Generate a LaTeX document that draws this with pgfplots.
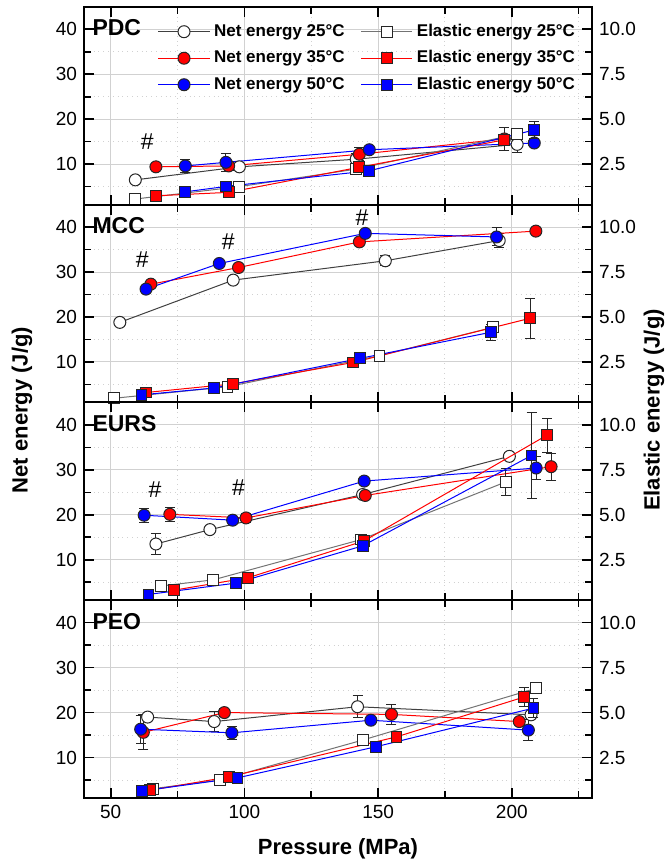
\documentclass[border=0pt]{standalone}
\usepackage{pgfplots}
\pgfplotsset{compat=1.18}
\usepackage{fontspec}
\setmainfont{Liberation Sans}
\pgfplotsset{
 base/.style={width=254pt, height=98.9pt, scale only axis, xmin=40, xmax=230,
   axis line style={line width=1pt}, tick align=inside, major tick length=5pt, minor tick length=3.5pt,
   every tick/.style={black, line width=0.8pt},
   ticklabel style={font=\fontsize{9.5}{11}\selectfont},
   /pgf/number format/assume math mode=true, clip=false},
 netax/.style={base, ymin=1, ymax=45, ytick={10,20,30,40}, minor ytick={5,15,25,35},
   xtick={50,100,150,200}, minor xtick={75,125,175,225}, grid=both,
   major grid style={black!18, line width=0.5pt}, minor grid style={black!18, dotted, line width=0.5pt},
   ytick pos=left, xtick pos=both},
 elax/.style={base, ymin=0.25, ymax=11.25, axis y line*=right, axis x line=none,
   ytick={2.5,5,7.5,10}, minor ytick={1.25,3.75,6.25,8.75},
   yticklabel style={/pgf/number format/.cd, fixed, fixed zerofill, precision=1}},
 n25/.style={black!75, line width=0.5pt, mark=*, mark size=3pt, mark options={solid, fill=white, draw=black!85, line width=0.5pt}},
 n35/.style={red, line width=0.5pt, mark=*, mark size=3pt, mark options={solid, fill=red, draw=black!85, line width=0.5pt}},
 n50/.style={blue, line width=0.5pt, mark=*, mark size=3pt, mark options={solid, fill=blue, draw=black!85, line width=0.5pt}},
 e25/.style={black!55, line width=0.5pt, mark=square*, mark size=2.7pt, mark options={solid, fill=white, draw=black!85, line width=0.5pt}},
 e35/.style={red, line width=0.5pt, mark=square*, mark size=2.7pt, mark options={solid, fill=red, draw=black!85, line width=0.5pt}},
 e50/.style={blue, line width=0.5pt, mark=square*, mark size=2.7pt, mark options={solid, fill=blue, draw=black!85, line width=0.5pt}},
 ebar/.style={error bars/.cd, y dir=both, y explicit, error bar style={black!85, line width=0.5pt},
   error mark options={rotate=90, black!85, mark size=2.5pt, line width=0.5pt}},
}
\newcommand{\ptitle}[1]{\node[anchor=north west, inner sep=0pt, font=\fontsize{11.5}{13}\bfseries] at (rel axis cs:0.016,0.937) {#1};}
\newcommand{\hash}[2]{\node[font=\fontsize{11.5}{13}\selectfont] at (axis cs:#1,#2) {\#};}
\begin{document}
\begin{tikzpicture}
\path[use as bounding box] (0,0) rectangle (336pt,431.5pt);
%% ---------------- PDC
\begin{axis}[netax, at={(42pt,329.2pt)}, anchor=south west, xticklabels={},
  legend style={draw=none, fill=none, font=\fontsize{8.5}{10}\bfseries, at={(0.975,0.935)}, anchor=north east,
    column sep=0pt, row sep=1.6pt, inner sep=0pt, /tikz/every even column/.append style={column sep=6pt}},
  legend columns=2, legend cell align=left,
  legend image code/.code={\draw[mark repeat=2,mark phase=2,#1] plot coordinates {(0cm,0cm) (0.45cm,0cm) (0.9cm,0cm)};}]
\addlegendimage{n25}\addlegendentry{Net energy 25°C}
\addlegendimage{e25}\addlegendentry{Elastic energy 25°C}
\addlegendimage{n35}\addlegendentry{Net energy 35°C}
\addlegendimage{e35}\addlegendentry{Elastic energy 35°C}
\addlegendimage{n50}\addlegendentry{Net energy 50°C}
\addlegendimage{e50}\addlegendentry{Elastic energy 50°C}
\addplot[n25, forget plot, ebar] table[x=x,y=y,y error=e] {
x y e
59.2 6.5 0.8
98.1 9.4 0.8
141.8 11.1 1.2
202 14.4 1.8
};
\addplot[n35, forget plot, ebar] table[x=x,y=y,y error=e] {
x y e
66.9 9.4 0.7
94.1 9.6 1.0
143 12.2 1.5
197.2 15.6 2.6
};
\addplot[n50, forget plot, ebar] table[x=x,y=y,y error=e] {
x y e
77.9 9.6 1.5
93.1 10.4 2.0
146.7 13.2 0.8
208.4 14.7 0.8
};
\ptitle{PDC}
\hash{63.7}{14.9}
\end{axis}
\begin{axis}[elax, at={(42pt,329.2pt)}, anchor=south west]
\addplot[e25, ebar] table[x=x,y=y,y error=e] {
x y e
59.2 0.56 0.15
98.1 1.25 0.15
141.7 2.22 0.2
202 4.17 0.3
};
\addplot[e35, ebar] table[x=x,y=y,y error=e] {
x y e
66.9 0.74 0.15
94.1 0.93 0.1
143 2.33 0.2
197.2 3.85 0.3
};
\addplot[e50, ebar] table[x=x,y=y,y error=e] {
x y e
77.9 0.96 0.15
93.1 1.26 0.1
146.7 2.13 0.15
208.4 4.4 0.45
};
\end{axis}
%% ---------------- MCC
\begin{axis}[netax, at={(42pt,230.3pt)}, anchor=south west, xticklabels={}]
\addplot[n25, ebar] table[x=x,y=y,y error=e] {
x y e
53.4 18.8 0.5
95.8 28.2 0.8
152.7 32.5 1.1
195.3 37.0 1.5
};
\addplot[n35, ebar] table[x=x,y=y,y error=e] {
x y e
65 27.3 0.8
97.8 31.0 0.5
143 36.7 0.8
209 39.1 0.8
};
\addplot[n50, ebar] table[x=x,y=y,y error=e] {
x y e
63.2 26.2 0.8
90.6 31.9 0.5
145.2 38.6 0.5
194.3 37.8 2.0
};
\ptitle{MCC}
\hash{61.8}{32.7}
\hash{94}{36.7}
\hash{144}{42}
\end{axis}
\begin{axis}[elax, at={(42pt,230.3pt)}, anchor=south west]
\addplot[e25, ebar] table[x=x,y=y,y error=e] {
x y e
51.3 0.48 0.15
93.7 1.12 0.1
150.5 2.85 0.25
193.1 4.43 0.25
};
\addplot[e35, ebar] table[x=x,y=y,y error=e] {
x y e
63.2 0.8 0.1
95.8 1.28 0.15
140.7 2.47 0.1
206.9 4.93 1.1
};
\addplot[e50, ebar] table[x=x,y=y,y error=e] {
x y e
61.5 0.67 0.15
88.7 1.05 0.1
143.3 2.7 0.1
192.2 4.15 0.45
};
\end{axis}
%% ---------------- EURS
\begin{axis}[netax, at={(42pt,131.4pt)}, anchor=south west, xticklabels={}]
\addplot[n25, ebar] table[x=x,y=y,y error=e] {
x y e
66.9 13.5 2.3
87.1 16.7 0.8
144.2 24.5 0.8
199.1 33.0 0.8
};
\addplot[n35, ebar] table[x=x,y=y,y error=e] {
x y e
72.1 20.1 1.5
100.6 19.3 1.0
145.2 24.3 0.8
214.7 30.7 3.0
};
\addplot[n50, ebar] table[x=x,y=y,y error=e] {
x y e
62.5 19.9 1.6
95.6 18.8 0.5
144.8 27.5 0.5
209.1 30.4 2.5
};
\ptitle{EURS}
\hash{66.6}{25.6}
\hash{97.8}{26.1}
\end{axis}
\begin{axis}[elax, at={(42pt,131.4pt)}, anchor=south west]
\addplot[e25, ebar] table[x=x,y=y,y error=e] {
x y e
68.8 1.04 0.15
88.3 1.38 0.15
143.6 3.62 0.2
197.8 6.83 0.75
};
\addplot[e35, ebar] table[x=x,y=y,y error=e] {
x y e
73.8 0.81 0.2
101.4 1.5 0.2
144.8 3.55 0.25
213.2 9.43 0.95
};
\addplot[e50, ebar] table[x=x,y=y,y error=e] {
x y e
64.1 0.57 0.15
96.8 1.2 0.1
144.2 3.27 0.2
207.4 8.3 2.4
};
\end{axis}
%% ---------------- PEO
\begin{axis}[netax, at={(42pt,32.5pt)}, anchor=south west]
\addplot[n25, ebar] table[x=x,y=y,y error=e] {
x y e
63.8 19.0 0.8
88.7 18.0 2.2
142.3 21.3 2.5
207.2 19.5 0.8
};
\addplot[n35, ebar] table[x=x,y=y,y error=e] {
x y e
62.2 15.6 3.9
92.5 20.0 0.8
155 19.6 2.3
202.8 18.0 0.5
};
\addplot[n50, ebar] table[x=x,y=y,y error=e] {
x y e
61.2 16.3 3.1
95.3 15.5 1.5
147.3 18.3 0.5
206.2 16.1 2.3
};
\ptitle{PEO}
\end{axis}
\begin{axis}[elax, at={(42pt,32.5pt)}, anchor=south west]
\addplot[e25, ebar] table[x=x,y=y,y error=e] {
x y e
65.9 0.77 0.15
90.8 1.25 0.15
144.2 3.47 0.1
209.1 6.35 0.1
};
\addplot[e35, ebar] table[x=x,y=y,y error=e] {
x y e
64.7 0.68 0.15
94.1 1.42 0.15
156.9 3.65 0.15
204.7 5.87 0.54
};
\addplot[e50, ebar] table[x=x,y=y,y error=e] {
x y e
61.7 0.64 0.15
97.4 1.37 0.1
149.2 3.1 0.1
208.1 5.25 0.55
};
\end{axis}
%% labels
\node[rotate=90, font=\fontsize{11}{13}\bfseries] at (11pt,226.5pt) {Net energy (J/g)};
\node[rotate=90, font=\fontsize{11}{13}\bfseries] at (327pt,226.5pt) {Elastic energy (J/g)};
\node[font=\fontsize{11}{13}\bfseries] at (169pt,7pt) {Pressure (MPa)};
\end{tikzpicture}
\end{document}
